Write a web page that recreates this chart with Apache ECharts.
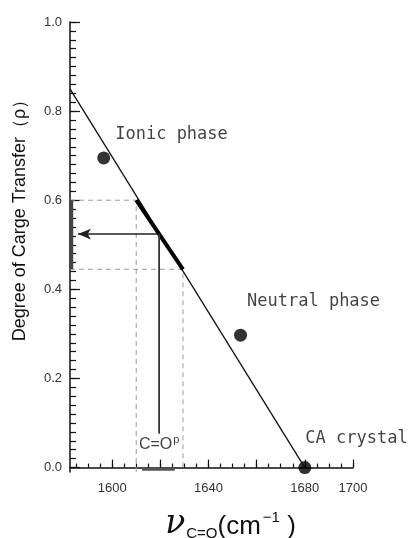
<!DOCTYPE html>
<html>
<head>
<meta charset="utf-8">
<script src="https://cdn.jsdelivr.net/npm/echarts@6/dist/echarts.min.js"></script>
<style>
  html, body { margin: 0; padding: 0; background: #fff; }
  #chart { width: 409px; height: 538px; }
</style>
</head>
<body>
<div id="chart"></div>
<script>
// axis values
var nuMin = 1582.5, nuMax = 1700
var rhoMin = -0.01, rhoMax = 1.0
var xTickLabels = [1600, 1640, 1680, 1700]
var xMajorTicks = [1600, 1620, 1640, 1660, 1680, 1700]
var yTickLabels = [0, 0.2, 0.4, 0.6, 0.8, 1.0]

// measured points
var phaseNames = ['Ionic phase', 'Neutral phase', 'CA crystal']
var phaseNu = [1596.5, 1653.3, 1680]
var phaseRho = [0.695, 0.297, 0]

// fitted line
var fitNu = [1582.5, 1680]
var fitRho = [0.85, 0]

// band of the C=O peak
var bandNu = [1610, 1629.4]
var bandRho = [0.6, 0.445]
var peakNu = 1619.5
var peakRho = 0.524
var peakBase = 0.076
var arrowTipNu = 1585.8
var axisBandNu = [1612.4, 1626]
var axisBandRho = [0.445, 0.6]

var xMinorTicks = []
for (var t = 1585; t <= 1700; t += 5) xMinorTicks.push(t)
var yMinorTicks = []
for (var k = 0; k <= 50; k++) yMinorTicks.push(+(k * 0.02).toFixed(2))

var dashed = { color: '#9a9a9a', type: [5, 4], width: 1 }

var myChart = echarts.init(document.getElementById('chart'))
var option = {
  animation: false,
  grid: { left: 70, right: 56, top: 22, bottom: 66, outerBoundsMode: 'none' },
  xAxis: [{
    type: 'value', min: nuMin, max: nuMax,
    splitLine: { show: false },
    axisLine: { lineStyle: { color: '#111', width: 1.5 } },
    axisTick: { inside: true, length: 4, customValues: xMinorTicks, lineStyle: { color: '#111', width: 1.2 } },
    axisLabel: { show: false },
    name: '{nu|ν}{sub|C=O}{par|(cm}{sup|−1}{par| )}',
    nameLocation: 'middle',
    nameGap: 36,
    nameTextStyle: {
      padding: [0, 0, 0, 38],
      rich: {
        nu: { fontSize: 33, fontFamily: 'DejaVu Serif', fontStyle: 'italic', color: '#111', padding: [0, 1, 4, 0] },
        sub: { fontSize: 15, fontFamily: 'Liberation Sans', color: '#111', padding: [15, 0, 0, 0] },
        par: { fontSize: 26, fontFamily: 'Liberation Sans', color: '#111' },
        sup: { fontSize: 15, fontFamily: 'Liberation Sans', color: '#111', padding: [0, 0, 18, 2] }
      }
    }
  }, {
    type: 'value', min: nuMin, max: nuMax, position: 'bottom',
    splitLine: { show: false },
    axisLine: { show: false },
    axisTick: { inside: true, length: 8, customValues: xMajorTicks, lineStyle: { color: '#111', width: 1.2 } },
    axisLabel: {
      customValues: xTickLabels, margin: 10, fontSize: 13, color: '#333', fontFamily: 'Liberation Sans',
      formatter: function (v) { return String(v) }
    }
  }],
  yAxis: [{
    type: 'value', min: rhoMin, max: rhoMax,
    splitLine: { show: false },
    axisLine: { lineStyle: { color: '#111', width: 1.5 } },
    axisTick: { inside: true, length: 6, customValues: yMinorTicks, lineStyle: { color: '#111', width: 1.2 } },
    axisLabel: { show: false },
    name: 'Degree of Carge Transfer（ρ）',
    nameLocation: 'middle',
    nameRotate: 90,
    nameGap: 41,
    nameTextStyle: { fontSize: 18, color: '#111', fontFamily: 'Liberation Sans', padding: [0, 0, 0, 62] }
  }, {
    type: 'value', min: rhoMin, max: rhoMax, position: 'left',
    splitLine: { show: false },
    axisLine: { show: false },
    axisTick: { inside: true, length: 10, customValues: yTickLabels, lineStyle: { color: '#111', width: 1.2 } },
    axisLabel: {
      customValues: yTickLabels, margin: 8, fontSize: 13, color: '#333', fontFamily: 'Liberation Sans',
      formatter: function (v) { return v.toFixed(1) }
    }
  }],
  series: [
    {
      // dashed guides
      type: 'line', showSymbol: false, silent: true,
      data: [[nuMin, bandRho[0]], [bandNu[0], bandRho[0]], [bandNu[0], rhoMin]],
      lineStyle: dashed
    },
    {
      type: 'line', showSymbol: false, silent: true,
      data: [[nuMin, bandRho[1]], [bandNu[1], bandRho[1]], [bandNu[1], rhoMin]],
      lineStyle: dashed
    },
    {
      // fitted line
      type: 'line', showSymbol: false, silent: true,
      data: [[fitNu[0], fitRho[0]], [fitNu[1], fitRho[1]]],
      lineStyle: { color: '#111', width: 1.3 }
    },
    {
      // thick band on the line
      type: 'line', showSymbol: false, silent: true,
      data: [[bandNu[0], bandRho[0]], [bandNu[1], bandRho[1]]],
      lineStyle: { color: '#000', width: 4 }
    },
    {
      // vertical from peak
      type: 'line', showSymbol: false, silent: true,
      data: [[peakNu, peakRho], [peakNu, peakBase]],
      lineStyle: { color: '#333', width: 1.8 },
      markLine: {
        silent: true,
        symbol: ['none', 'arrow'],
        symbolSize: [8, 13],
        label: { show: false },
        lineStyle: { color: '#222', width: 1.6, type: 'solid' },
        data: [[{ coord: [peakNu, peakRho] }, { coord: [arrowTipNu, peakRho] }]]
      }
    },
    {
      // grey bands on the axes
      type: 'line', showSymbol: false, silent: true,
      data: [[axisBandNu[0], -0.004], [axisBandNu[1], -0.004]],
      lineStyle: { color: '#555', width: 3 }
    },
    {
      type: 'line', showSymbol: false, silent: true,
      data: [[1583, axisBandRho[0]], [1583, axisBandRho[1]]],
      lineStyle: { color: '#444', width: 4 }
    },
    {
      // peak label
      type: 'scatter', symbolSize: 0, silent: true,
      data: [[peakNu, 0.052]],
      label: {
        show: true, position: 'inside',
        formatter: '{a|C=O}{s|p}',
        rich: {
          a: { fontSize: 16, fontFamily: 'Liberation Sans', color: '#111' },
          s: { fontSize: 11, fontFamily: 'Liberation Sans', color: '#111', padding: [0, 0, 8, 1] }
        }
      }
    },
    {
      type: 'scatter', symbolSize: 13, silent: true,
      itemStyle: { color: '#000' },
      data: phaseNu.map(function (x, i) {
        var offs = [[0, -23], [-5, -34], [-11, -29]]
        return {
          value: [x, phaseRho[i]],
          label: { offset: offs[i] },
          name: phaseNames[i]
        }
      }),
      label: {
        show: true, position: 'right', distance: 5,
        formatter: '{b}',
        fontSize: 17, color: '#111', fontFamily: 'DejaVu Sans Mono'
      }
    }
  ]
}
myChart.setOption(option)
</script>
</body>
</html>
